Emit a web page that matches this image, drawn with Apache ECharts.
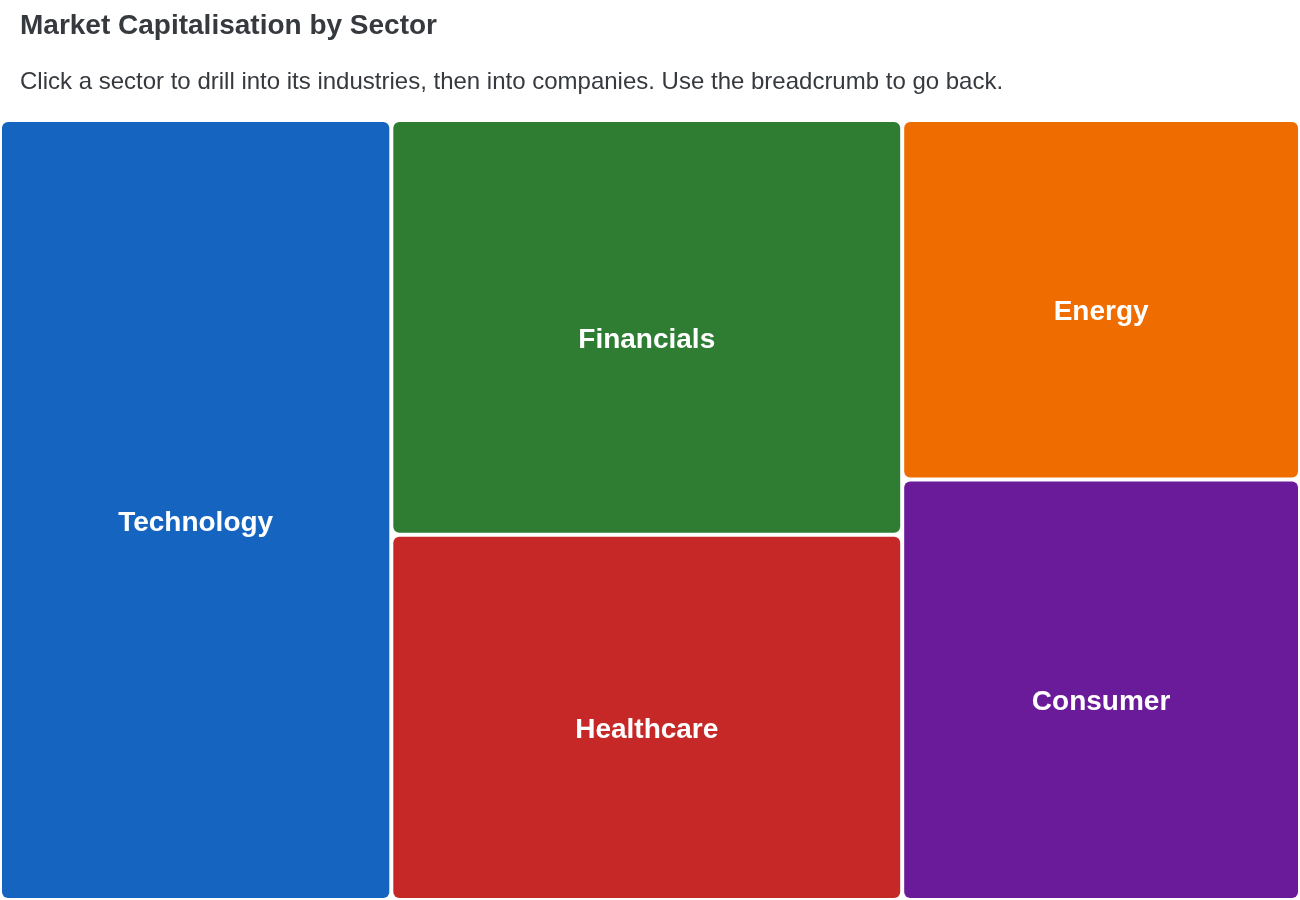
<!DOCTYPE html>
<html>
<head>
<meta charset="utf-8">
<style>
  html, body { margin: 0; padding: 0; background: #ffffff; }
  #chart { width: 1300px; height: 900px; }
</style>
<script src="https://cdn.jsdelivr.net/npm/echarts@6/dist/echarts.min.js"></script>
</head>
<body>
<div id="chart"></div>
<script>
const sectors = ['Technology', 'Financials', 'Healthcare', 'Energy', 'Consumer'];
const marketCap = [30.1, 20.9, 18.4, 14.1, 16.5];
const sectorColors = ['#1565C0', '#2E7D32', '#C62828', '#EF6C00', '#6A1B9A'];
const titleText = 'Market Capitalisation by Sector';
const subtitleText = 'Click a sector to drill into its industries, then into companies. Use the breadcrumb to go back.';

const chart = echarts.init(document.getElementById('chart'), null, { renderer: 'canvas' });
const font = '"Liberation Sans", Arial, Helvetica, sans-serif';

chart.setOption({
  animation: false,
  title: [
    { text: titleText, left: 15, top: 7,
      textStyle: { fontFamily: font, fontSize: 28, fontWeight: 'bold', color: '#363a3e' } },
    { text: subtitleText, left: 15, top: 65,
      textStyle: { fontFamily: font, fontSize: 24, fontWeight: 'normal', color: '#363a3e' } }
  ],
  tooltip: { show: true },
  series: [{
    type: 'treemap',
    left: 2, top: 122, right: 2, bottom: 2,
    width: 1296, height: 776,
    sort: false,
    squareRatio: 1,
    roam: false,
    nodeClick: false,
    leafDepth: 1,
    breadcrumb: { show: false },
    label: {
      show: true, position: 'inside', align: 'center', verticalAlign: 'middle',
      offset: [0, 13],
      formatter: '{b}', color: '#ffffff', fontFamily: font, fontSize: 28, fontWeight: 'bold'
    },
    upperLabel: { show: false },
    levels: [{ itemStyle: { gapWidth: 4, borderWidth: 0, borderColor: '#ffffff' } }],
    data: sectors.map((name, i) => ({
      name: name,
      value: marketCap[i],
      itemStyle: { color: sectorColors[i], borderRadius: 6, borderWidth: 0 }
    }))
  }]
});
</script>
</body>
</html>
